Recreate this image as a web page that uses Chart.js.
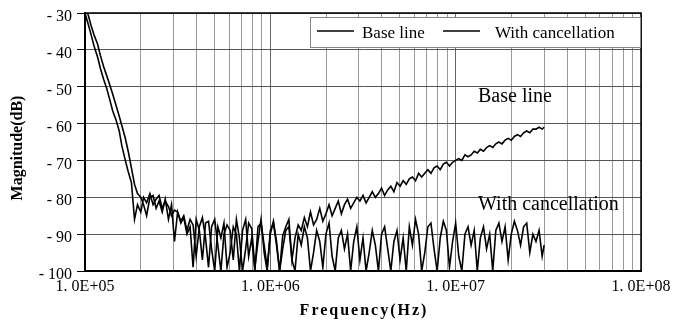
<!DOCTYPE html>
<html>
<head>
<meta charset="utf-8">
<title>Magnitude vs frequency</title>
<script src="https://cdn.jsdelivr.net/npm/chart.js@4.4.0/dist/chart.umd.min.js"></script>
<style>
  html, body { margin: 0; padding: 0; background: #fff; }
</style>
</head>
<body>
<canvas id="magChart" width="676" height="325"></canvas>
<script>
// frequency points (kHz)
const freqKHz = [
  100, 104, 108, 112, 117, 121, 126, 131, 136, 141, 147, 153, 158, 165, 171, 178, 185, 192, 200, 207,
  215, 224, 233, 242, 251, 261, 271, 282, 293, 304, 316, 329, 341, 355, 369, 383, 398, 414, 430, 447,
  464, 482, 501, 521, 541, 562, 584, 607, 631, 656, 681, 708, 736, 764, 794, 825, 858, 891, 926, 962,
  1000, 1039, 1080, 1122, 1166, 1212, 1259, 1308, 1359, 1413, 1468, 1526, 1585, 1647, 1711, 1778, 1848, 1920, 1995, 2074,
  2154, 2239, 2326, 2417, 2512, 2610, 2712, 2818, 2929, 3043, 3162, 3286, 3415, 3548, 3687, 3831, 3981, 4137, 4299, 4467,
  4642, 4823, 5012, 5208, 5412, 5623, 5843, 6072, 6310, 6556, 6813, 7079, 7356, 7643, 7943, 8254, 8577, 8913, 9261, 9624,
  10000, 10390, 10800, 11220, 11660, 12120, 12590, 13080, 13590, 14130, 14680, 15260, 15850, 16470, 17110, 17780, 18480, 19200, 19950, 20740,
  21540, 22390, 23260, 24170, 25120, 26100, 27120, 28180, 29290, 30000
];

// magnitude (dB) of the base line measurement
const baseLineDb = [
  -30, -33, -36, -39, -42, -45, -48, -50.5, -53.5, -56.5,
  -59, -62, -66, -70, -73, -76, -86, -82, -84, -80,
  -81.5, -79, -82, -80.5, -79.5, -83, -81, -82.5, -85, -83.5,
  -84, -86.5, -85, -89, -86, -87.5, -96, -88, -85.5, -91,
  -99, -88, -86, -93, -100, -90, -87.5, -89, -97, -86,
  -91, -100, -94, -87, -88.5, -99, -92, -86, -95, -100,
  -89, -87, -93, -100, -90.5, -88, -86, -97, -91, -87.5,
  -89, -85.5, -88, -84, -87.5, -86, -83, -86.5, -84.5, -82,
  -85, -83, -81, -84.5, -82, -80.5, -83, -81.5, -80, -81,
  -79.5, -81.5, -80, -78.5, -80, -79, -77.5, -79.5, -78, -77,
  -78.5, -76, -77, -75.5, -76.5, -75, -74.5, -75.5, -73.5, -74.5,
  -73.5, -72.5, -73.5, -72, -71.5, -72.5, -71, -70.5, -71.5, -70.5,
  -70, -69.5, -70, -68.5, -69, -68.5, -67.5, -68, -67, -67.5,
  -66.5, -66, -66.5, -65.5, -65, -65.5, -64.5, -64, -64.5, -63.5,
  -63, -63.5, -62.5, -62, -62.5, -61.5, -61.5, -61, -61.5, -61
];

// magnitude (dB) with cancellation
const cancelDb = [
  -27.5, -30.5, -33.5, -36, -38.5, -41.5, -44.5, -47, -49.5, -52,
  -55, -58, -60.5, -64, -67.5, -72, -76.5, -79, -80, -82,
  -85, -80, -79.5, -83, -81, -84, -80.5, -86, -82, -92,
  -84, -87, -85.5, -90, -88, -99, -86, -89, -97, -87,
  -86.5, -94, -100, -88, -91, -87, -99, -95, -88, -90,
  -100, -89, -86, -96, -91, -100, -88, -87, -93, -99,
  -90, -86.5, -92, -100, -94, -89, -88, -97, -100, -90,
  -93, -88, -91, -100, -95, -89, -92, -99, -90, -87,
  -96, -100, -91, -89, -94, -90, -100, -92, -88, -97,
  -91, -100, -95, -89, -93, -100, -90, -88, -94, -100,
  -92, -89, -97, -91, -100, -88, -93, -86, -90, -100,
  -95, -88, -87, -94, -100, -91, -86.5, -89, -99, -92,
  -87, -96, -100, -90, -88, -93, -89, -100, -91, -88,
  -94, -90, -100, -89, -87, -92, -88, -97, -90, -86.5,
  -89, -93, -88, -87, -95, -90, -92, -89, -96, -93
];

const seriesNames = ['Base line', 'With cancellation'];
const xTickValues = [1e5, 1e6, 1e7, 1e8];
const xTickLabels = ['1. 0E+05', '1. 0E+06', '1. 0E+07', '1. 0E+08'];

const SERIF = "'Liberation Serif', 'Times New Roman', serif";

function points(values) {
  return values.map((v, i) => ({ x: freqKHz[i] * 1000, y: v }));
}

// border, legend box, curve labels and axis titles
const decorPlugin = {
  id: 'decor',
  afterDraw(chart) {
    const c = chart.ctx;
    const a = chart.chartArea;
    const xs = chart.scales.x, ys = chart.scales.y;
    c.save();

    // top + right frame
    c.strokeStyle = '#000';
    c.lineWidth = 1.5;
    c.beginPath();
    c.moveTo(a.left, a.top);
    c.lineTo(a.right, a.top);
    c.lineTo(a.right, a.bottom);
    c.stroke();

    // legend box
    const lx = 310, ly = 17, lw = 330, lh = 30;
    c.fillStyle = '#fff';
    c.fillRect(lx, ly, lw, lh);
    c.strokeStyle = '#888';
    c.lineWidth = 1;
    c.strokeRect(lx + 0.5, ly + 0.5, lw, lh);
    c.strokeStyle = '#000';
    c.lineWidth = 1.6;
    c.beginPath();
    c.moveTo(317, 31); c.lineTo(354, 31);
    c.moveTo(443, 31); c.lineTo(480, 31);
    c.stroke();
    c.fillStyle = '#000';
    c.font = '17px ' + SERIF;
    c.textAlign = 'left';
    c.textBaseline = 'alphabetic';
    c.fillText(seriesNames[0], 362, 38);
    c.fillText(seriesNames[1], 495, 38);

    // curve labels
    c.font = '20px ' + SERIF;
    c.fillText(seriesNames[0], xs.getPixelForValue(1.32e7), ys.getPixelForValue(-54.1));
    c.fillText(seriesNames[1], xs.getPixelForValue(1.32e7), ys.getPixelForValue(-83.4));

    // axis titles
    c.font = 'bold 16px ' + SERIF;
    c.textAlign = 'center';
    c.textBaseline = 'middle';
    c.letterSpacing = '2px';
    c.fillText('Frequency(Hz)', (a.left + a.right) / 2 + 1, 311);
    c.letterSpacing = '0px';
    c.translate(18, 148);
    c.rotate(-Math.PI / 2);
    c.fillText('Magnitude(dB)', 0, 0);
    c.restore();
  }
};

const ctx = document.getElementById('magChart');
new Chart(ctx, {
  type: 'line',
  data: {
    datasets: [
      { label: seriesNames[0], data: points(baseLineDb) },
      { label: seriesNames[1], data: points(cancelDb) }
    ].map(ds => Object.assign(ds, {
      borderColor: '#000',
      borderWidth: 1.6,
      pointRadius: 0,
      tension: 0,
      fill: false
    }))
  },
  options: {
    responsive: false,
    animation: false,
    devicePixelRatio: 1,
    layout: { padding: { top: 13, right: 35, left: 0, bottom: 0 } },
    plugins: {
      legend: { display: false },
      tooltip: { enabled: false }
    },
    scales: {
      x: {
        type: 'logarithmic',
        min: 1e5,
        max: 1e8,
        afterBuildTicks(scale) {
          const t = [];
          [1e5, 1e6, 1e7].forEach(d => {
            for (let m = 1; m <= 9; m++) t.push({ value: m * d });
          });
          t.push({ value: 1e8 });
          scale.ticks = t;
        },
        afterFit(scale) {
          scale.height = 54;
          scale.paddingLeft = 0;
          scale.paddingRight = 0;
        },
        ticks: {
          autoSkip: false,
          maxRotation: 0,
          padding: 6,
          color: '#000',
          font: { family: SERIF, size: 16 },
          callback(v) {
            const k = xTickValues.indexOf(v);
            return k >= 0 ? xTickLabels[k] : '';
          }
        },
        grid: {
          drawTicks: false,
          color: c => xTickValues.includes(c.tick && c.tick.value) ? '#666' : '#999',
          lineWidth: 1
        },
        border: { display: true, color: '#000', width: 2 }
      },
      y: {
        min: -100,
        max: -30,
        afterFit(scale) {
          scale.width = 85;
          scale.paddingTop = 0;
          scale.paddingBottom = 0;
        },
        ticks: {
          stepSize: 10,
          padding: 5,
          labelOffset: 4,
          color: '#000',
          font: { family: SERIF, size: 16 },
          callback: v => '- ' + Math.abs(v)
        },
        grid: {
          color: '#555',
          lineWidth: 1,
          drawTicks: true,
          tickLength: 8,
          tickColor: '#000'
        },
        border: { display: true, color: '#000', width: 2 }
      }
    }
  },
  plugins: [decorPlugin]
});
</script>
</body>
</html>
